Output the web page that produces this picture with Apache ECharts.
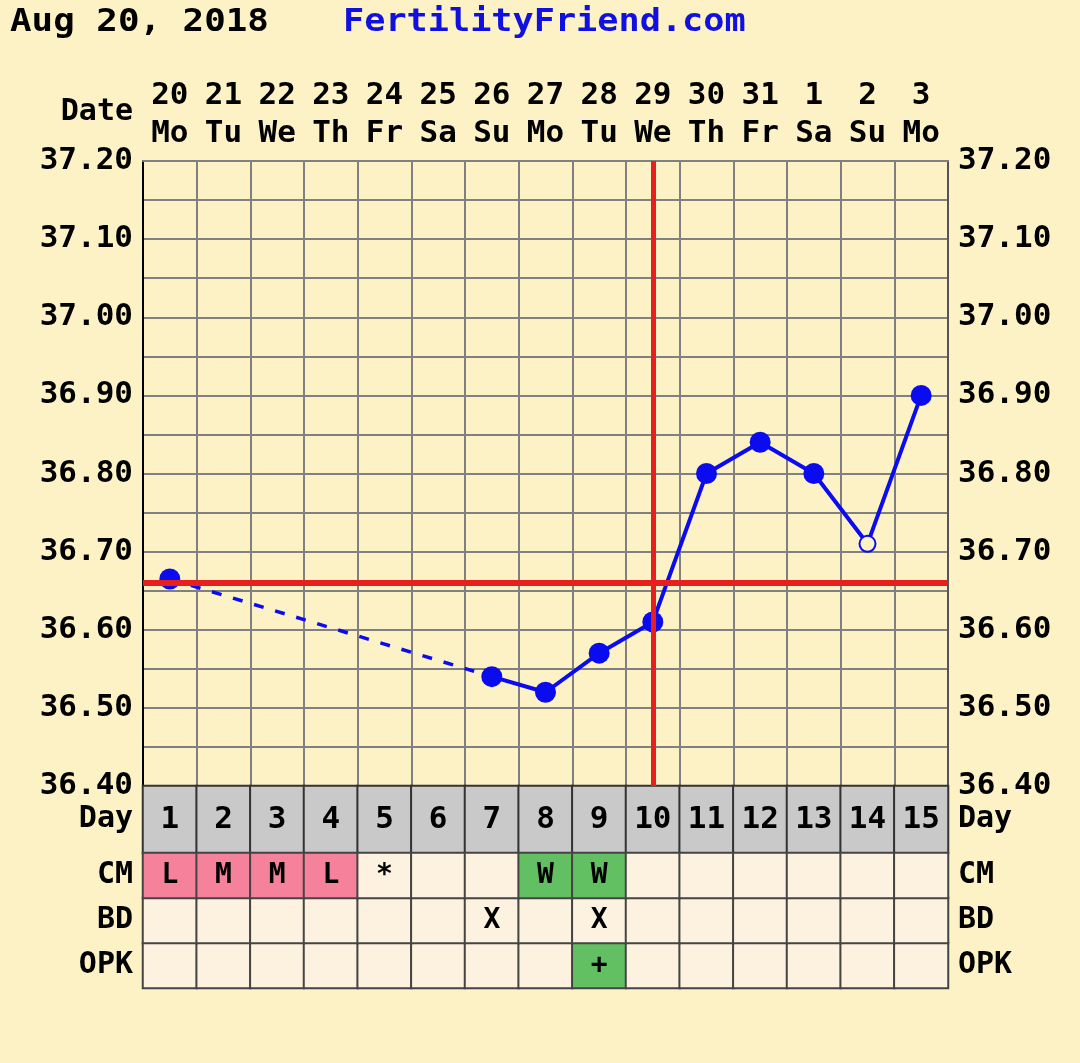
<!DOCTYPE html>
<html><head><meta charset="utf-8">
<script src="https://cdn.jsdelivr.net/npm/echarts@6/dist/echarts.min.js"></script>
<style>html,body{margin:0;padding:0;background:#fdf2c5}#c{width:1080px;height:1063px}</style>
</head><body><div id="c"></div>
<script>
// ---- data ----
const dates = ['20','21','22','23','24','25','26','27','28','29','30','31','1','2','3'];
const weekdays = ['Mo','Tu','We','Th','Fr','Sa','Su','Mo','Tu','We','Th','Fr','Sa','Su','Mo'];
const temps = [36.665, null, null, null, null, null, 36.54, 36.52, 36.57, 36.61, 36.80, 36.84, 36.80, 36.71, 36.90];
const openPointIndex = [13];
const cycleDays = [1,2,3,4,5,6,7,8,9,10,11,12,13,14,15];
const cmValues  = ['L','M','M','L','*','','','W','W','','','','','',''];
const bdValues  = ['','','','','','','X','','X','','','','','',''];
const opkValues = ['','','','','','','','','+','','','','','',''];
const coverline = 36.665;
const ovulationIndex = 9;
const tableRows = ['OPK','BD','CM'];

// ---- style ----
const FONT = 'DejaVu Sans Mono';
const BG = '#fdf2c5';
const BLUE = '#0b0bf0';
const RED = '#e5201f';
const GRIDC = '#808080';
const CELL = '#fcf2df';
const cmColor = {L:'#f5829a', M:'#f5829a', W:'#62c062'};
const opkColor = {'+':'#62c062'};

const chart = echarts.init(document.getElementById('c'), null, {renderer:'canvas'});

const lbl = {fontFamily: FONT, fontWeight: 'bold', fontSize: 30, color: '#000'};

// dashed series: connect across missing days from first to next
const dashed = temps.map((v,i)=> i<=6 ? v : null);

const tableData = [];
const rowsSrc = {OPK: opkValues, BD: bdValues, CM: cmValues};
tableRows.forEach((r, ri) => {
  rowsSrc[r].forEach((t, i) => {
    let col = CELL;
    if (r === 'CM' && cmColor[t]) col = cmColor[t];
    if (r === 'OPK' && opkColor[t]) col = opkColor[t];
    tableData.push({value:[i, ri, 1], text: t, itemStyle:{color: col}});
  });
});

const option = {
  backgroundColor: BG,
  animation: false,
  graphic: [
    {type:'text', x: 10, y: 23, scaleX: 1.12, style:{text:'Aug 20, 2018', font:`bold 32px "${FONT}"`, fill:'#000', verticalAlign:'middle'}},
    {type:'text', x: 343, y: 23, scaleX: 1.1, style:{text:'FertilityFriend.com', font:`bold 32px "${FONT}"`, fill:'#1010e0', verticalAlign:'middle'}},
    {type:'text', x: 133, y: 112, style:{text:'Date', font:`bold 30px "${FONT}"`, fill:'#000', align:'right', verticalAlign:'middle'}}
  ],
  grid: [
    {left:143, right:132, top:161, height:625},
    {left:143, right:132, top:786, height:67},
    {left:143, right:132, top:853, height:135}
  ],
  xAxis: [
    {gridIndex:0, type:'category', data: dates, position:'top',
     axisLine:{show:true, lineStyle:{color:GRIDC, width:2}}, axisTick:{show:false},
     splitLine:{show:true, lineStyle:{color:GRIDC, width:2}},
     axisLabel:{...lbl, fontSize:31, margin:8, lineHeight:38, interval:0,
       formatter:(v,i)=> v + '\n' + weekdays[i]}},
    {gridIndex:1, type:'category', data: cycleDays.map(String), show:false},
    {gridIndex:2, type:'category', data: cycleDays.map(String), show:false}
  ],
  yAxis: [
    {gridIndex:0, type:'value', min:36.4, max:37.2, interval:0.05,
     axisLine:{show:true, lineStyle:{color:'#000', width:2}}, axisTick:{show:false},
     splitLine:{show:true, lineStyle:{color:GRIDC, width:2}},
     axisLabel:{...lbl, fontSize:31, margin:10, showMinLabel:true, showMaxLabel:true,
       formatter:v=> (Math.round(v*100)%10===0) ? v.toFixed(2) : ''}},
    {gridIndex:0, type:'value', min:36.4, max:37.2, interval:0.05, position:'right',
     axisLine:{show:true, lineStyle:{color:'#555', width:2}}, axisTick:{show:false},
     splitLine:{show:false},
     axisLabel:{...lbl, fontSize:31, margin:10, showMinLabel:true, showMaxLabel:true,
       formatter:v=> (Math.round(v*100)%10===0) ? v.toFixed(2) : ''}},
    {gridIndex:1, type:'category', data:['Day'], axisLine:{show:false}, axisTick:{show:false}, axisLabel:{...lbl, margin:10}},
    {gridIndex:1, type:'category', data:['Day'], position:'right', axisLine:{show:false}, axisTick:{show:false}, axisLabel:{...lbl, margin:10}},
    {gridIndex:2, type:'category', data: tableRows, axisLine:{show:false}, axisTick:{show:false}, axisLabel:{...lbl, margin:10}},
    {gridIndex:2, type:'category', data: tableRows, position:'right', axisLine:{show:false}, axisTick:{show:false}, axisLabel:{...lbl, margin:10}}
  ],
  series: [
    {type:'line', xAxisIndex:0, yAxisIndex:0, data: [], z:2,
     markLine:{silent:true, symbol:'none', label:{show:false},
       data:[
         {yAxis: coverline, lineStyle:{color:RED, width:6, type:'solid'}},
         {xAxis: dates[ovulationIndex], lineStyle:{color:RED, width:5, type:'solid'}}
       ]}},
    {type:'line', xAxisIndex:0, yAxisIndex:0, data: dashed, connectNulls:true, symbol:'none', z:3,
     lineStyle:{color:BLUE, width:3.5, type:[10,12]}},
    {type:'line', xAxisIndex:0, yAxisIndex:0, z:4, connectNulls:false,
     symbol:'circle', symbolSize:21,
     itemStyle:{color:BLUE}, lineStyle:{color:BLUE, width:4},
     data: temps.map((v,i)=> openPointIndex.includes(i)
        ? {value:v, symbolSize:16, itemStyle:{color:BG, borderColor:BLUE, borderWidth:2}}
        : v)},
    {type:'heatmap', xAxisIndex:1, yAxisIndex:2,
     data: cycleDays.map((d,i)=>[i,0,d]),
     itemStyle:{color:'#c9c9c9', borderColor:'#333', borderWidth:2},
     label:{show:true, ...lbl, fontSize:31, formatter:p=>String(p.value[2])},
     emphasis:{disabled:true}},
    {type:'heatmap', xAxisIndex:2, yAxisIndex:4,
     data: tableData,
     itemStyle:{borderColor:'#444', borderWidth:2},
     label:{show:true, ...lbl, fontSize:28, formatter:p=>p.data.text},
     emphasis:{disabled:true}}
  ]
};
chart.setOption(option);
</script></body></html>
